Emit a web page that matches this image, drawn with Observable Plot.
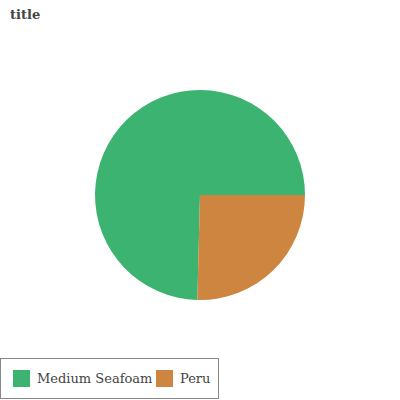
<!DOCTYPE html>
<html>
<head>
<meta charset="utf-8">
<script src="https://cdn.jsdelivr.net/npm/d3@7"></script>
<script src="https://cdn.jsdelivr.net/npm/@observablehq/plot@0.6"></script>
<style>
  html, body { margin: 0; padding: 0; background: #fff; }
  #wrap { position: relative; width: 400px; height: 400px; overflow: hidden; }
  #title { position: absolute; left: 10px; top: 7px; font: bold 13px "DejaVu Serif", serif; color: #444; }
  #chart { position: absolute; left: 0; top: 30px; }
  #legend { position: absolute; left: 0; top: 358px; width: 217px; height: 39px; border: 1px solid #888; box-sizing: content-box;
            font: 13px "DejaVu Serif", serif; color: #444; }
  .item { position: absolute; top: 11px; display: flex; align-items: center; }
  .sw { width: 17px; height: 17px; margin-right: 7px; }
</style>
</head>
<body>
<div id="wrap">
  <div id="title">title</div>
  <div id="chart"></div>
  <div id="legend"></div>
</div>
<script>
const categories = ["Medium Seafoam", "Peru"];
const values = [74.6, 25.4];
const colors = ["#3CB371", "#CD853F"];

const data = categories.map((c, i) => ({category: c, value: values[i]}));

function pieMark(index, scales, vals, dimensions, context) {
  const cx = scales.x(0), cy = scales.y(0);
  const r = Math.abs(scales.x(1) - scales.x(0));
  const pie = d3.pie().sort(null).value(d => d.value)
    .startAngle(Math.PI / 2).endAngle(Math.PI / 2 - 2 * Math.PI);
  const arc = d3.arc().innerRadius(0).outerRadius(r);
  const g = d3.create("svg:g").attr("transform", `translate(${cx},${cy})`);
  g.selectAll("path").data(pie(data)).join("path")
    .attr("d", arc)
    .attr("fill", d => scales.color(d.data.category));
  return g.node();
}

const plot = Plot.plot({
  width: 400,
  height: 326,
  margin: 0,
  x: {domain: [-1, 1], range: [95, 305], axis: null},
  y: {domain: [-1, 1], range: [270, 60], axis: null},
  color: {domain: categories, range: colors},
  marks: [
    Plot.dot([{x: 0, y: 0}], {x: "x", y: "y", r: 0, fill: "none"}),
    pieMark
  ]
});
document.getElementById("chart").appendChild(plot);

const legend = document.getElementById("legend");
const lefts = [12, 155];
categories.forEach((c, i) => {
  const it = document.createElement("div");
  it.className = "item";
  it.style.left = lefts[i] + "px";
  it.innerHTML = `<div class="sw" style="background:${colors[i]}"></div><span>${c}</span>`;
  legend.appendChild(it);
});
</script>
</body>
</html>
